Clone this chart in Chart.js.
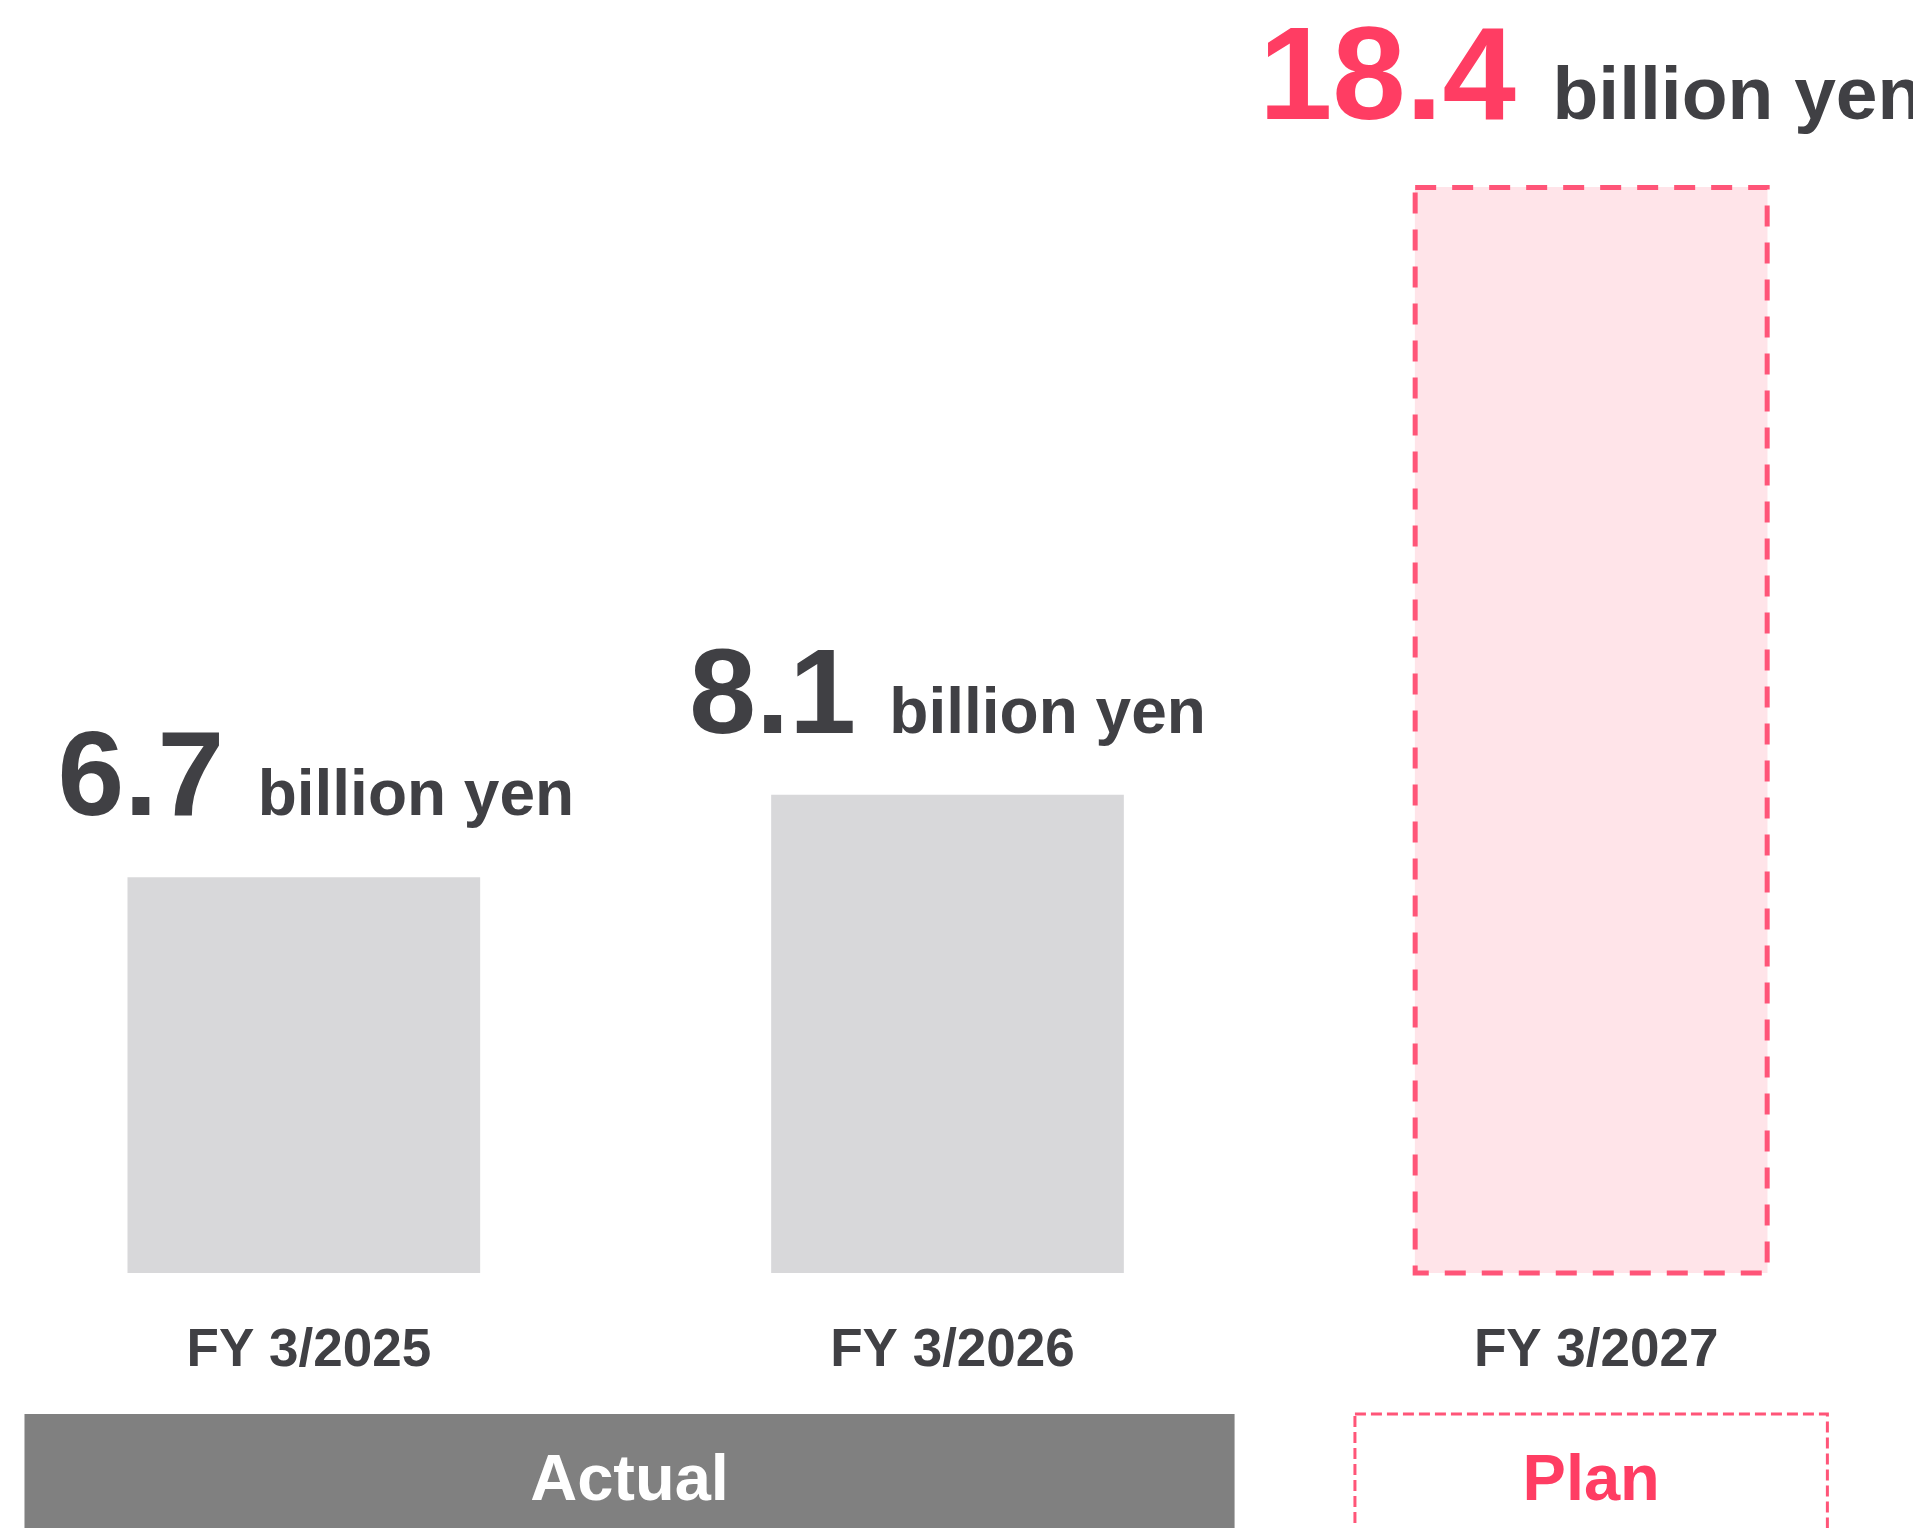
<!DOCTYPE html>
<html>
<head>
<meta charset="utf-8">
<script src="https://cdn.jsdelivr.net/npm/chart.js@4/dist/chart.umd.min.js"></script>
<style>
  html, body { margin: 0; padding: 0; background: #fff; overflow: hidden; }
  body { width: 1926px; height: 1528px; position: relative; }
  /* the first category box starts a little left of the page edge */
  #wrap { position: absolute; left: -18px; top: 0; width: 1931px; height: 1528px; }
</style>
</head>
<body>
<div id="wrap"><canvas id="chart"></canvas></div>
<script>
const categories = ['FY 3/2025', 'FY 3/2026', 'FY 3/2027'];
const values = [6.7, 8.1, 18.4];
const valueUnit = 'billion yen';
const groupNames = ['Actual', 'Plan'];
const groupSpans = [[0, 1], [2, 2]];

const FONT = '"Liberation Sans", Arial, Helvetica, sans-serif';
const DARK = '#404044';
const PINK = '#ff3d63';
const PINK_LINE = '#ff5578';
const planStart = groupSpans[1][0];

const labels = {
  id: 'labels',
  afterDatasetsDraw(chart) {
    const ctx = chart.ctx;
    const area = chart.chartArea;
    const xs = chart.scales.x;
    const catW = xs.getPixelForValue(1) - xs.getPixelForValue(0);
    const meta = chart.getDatasetMeta(0);
    ctx.save();

    meta.data.forEach((bar, i) => {
      const { x, y, base, width } = bar.getProps(['x', 'y', 'base', 'width'], true);
      const plan = i >= planStart;

      // dashed outline for planned figures
      if (plan) {
        ctx.strokeStyle = PINK_LINE;
        ctx.lineWidth = 5;
        ctx.setLineDash([21, 16]);
        ctx.strokeRect(x - width / 2, y, width, base - y);
        ctx.setLineDash([]);
      }

      // "6.7 billion yen" above each bar
      const big = plan ? 132 : 120;
      const small = plan ? 75 : 64;
      const num = values[i].toFixed(1) + ' ';
      ctx.font = `bold ${big}px ${FONT}`;
      const w1 = ctx.measureText(num).width;
      ctx.font = `bold ${small}px ${FONT}`;
      const w2 = ctx.measureText(valueUnit).width;
      const left = x - (w1 + w2) / 2 + (i === 0 ? 12 : 0);
      const yb = y - big * 0.52;
      ctx.textAlign = 'left';
      ctx.textBaseline = 'alphabetic';
      ctx.font = `bold ${big}px ${FONT}`;
      ctx.fillStyle = plan ? PINK : DARK;
      ctx.fillText(num, left, yb);
      ctx.font = `bold ${small}px ${FONT}`;
      ctx.fillStyle = DARK;
      ctx.fillText(valueUnit, left + w1, yb);

      // fiscal year under the bar
      ctx.font = `bold 53px ${FONT}`;
      ctx.textAlign = 'center';
      ctx.fillText(categories[i], x + 5, area.bottom + 93);
    });

    // Actual / Plan bands
    const top = area.bottom + 141;
    const h = chart.height - top;
    groupNames.forEach((name, g) => {
      const [a, b] = groupSpans[g];
      const plan = a >= planStart;
      let l, r;
      if (plan) {
        l = xs.getPixelForValue(a) - catW * 0.367;
        r = xs.getPixelForValue(b) + catW * 0.367;
        ctx.strokeStyle = PINK_LINE;
        ctx.lineWidth = 3;
        ctx.setLineDash([11, 5]);
        ctx.strokeRect(l, top, r - l, h + 20);
        ctx.setLineDash([]);
        ctx.fillStyle = PINK;
      } else {
        l = xs.getPixelForValue(a) - catW * 0.434;
        r = xs.getPixelForValue(b) + catW * 0.446;
        ctx.fillStyle = '#808080';
        ctx.fillRect(l, top, r - l, h);
        ctx.fillStyle = '#ffffff';
      }
      ctx.font = `bold 65px ${FONT}`;
      ctx.textAlign = 'center';
      ctx.fillText(name, (l + r) / 2, top + 86);
    });

    ctx.restore();
  }
};

new Chart(document.getElementById('chart'), {
  type: 'bar',
  data: {
    labels: categories,
    datasets: [{
      data: values,
      backgroundColor: values.map((v, i) => i >= planStart ? '#ffe4e9' : '#d8d8da'),
      borderWidth: 0,
      barThickness: 352
    }]
  },
  options: {
    responsive: true,
    maintainAspectRatio: false,
    animation: false,
    layout: { padding: { top: 93, bottom: 255, left: 0, right: 0 } },
    plugins: { legend: { display: false }, tooltip: { enabled: false } },
    scales: {
      x: { display: false, offset: true },
      y: { display: false, min: 0, max: 20 }
    }
  },
  plugins: [labels]
});
</script>
</body>
</html>
